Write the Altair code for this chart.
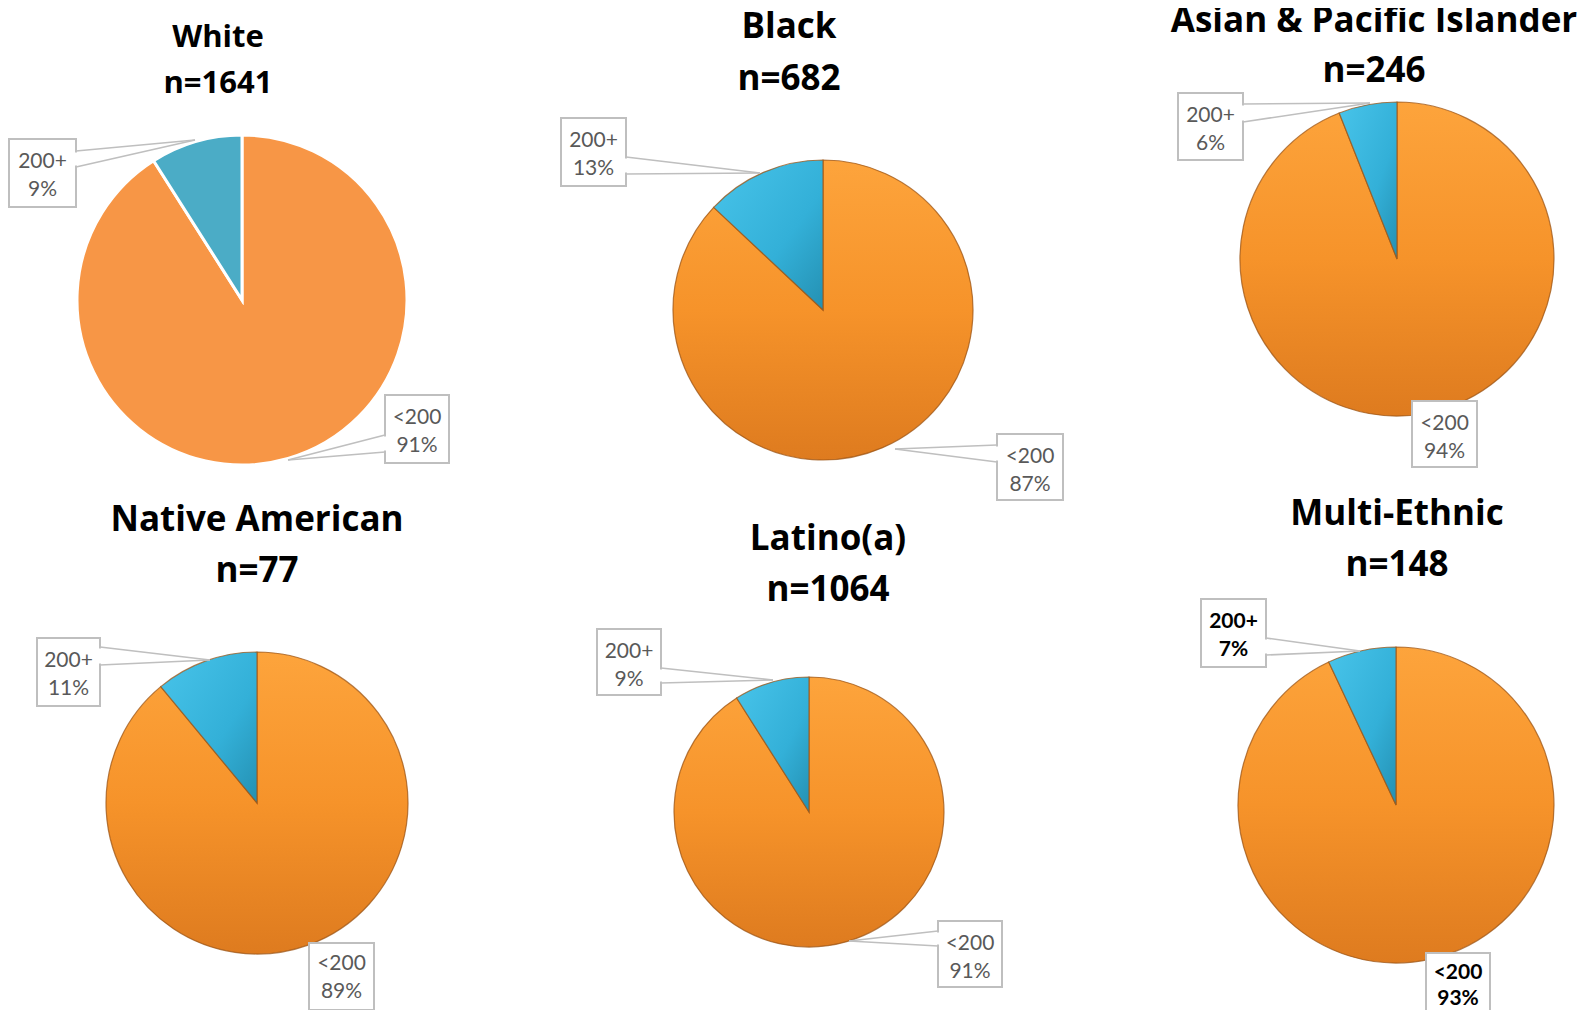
import altair as alt
import pandas as pd

# ---------------- data ----------------
groups = ["White", "Black", "Asian & Pacific Islander", "Native American", "Latino(a)", "Multi-Ethnic"]
n_values = [1641, 682, 246, 77, 1064, 148]
categories = ["<200", "200+"]
pct_under_200 = [91, 87, 94, 89, 91, 93]
pct_200_plus = [9, 13, 6, 11, 9, 7]

# ---------------- layout (page pixel coords) ----------------
OFF = 8
pie_layout = {  # cx, cy, r
    "White": (242, 300, 165),
    "Black": (823, 310, 150),
    "Asian & Pacific Islander": (1397, 259, 157),
    "Native American": (257, 803, 151),
    "Latino(a)": (809, 812, 135),
    "Multi-Ethnic": (1396, 805, 158),
}
title_layout = {  # cx, baseline1, baseline2, font size
    "White": (218, 47, 93, 31),
    "Black": (789, 38, 90, 35),
    "Asian & Pacific Islander": (1374, 32, 82, 35),
    "Native American": (257, 531, 582, 35),
    "Latino(a)": (828, 550, 601, 35),
    "Multi-Ethnic": (1397, 525, 576, 35),
}
# box (x0,y0,x1,y1), leader: (attach_x, ya, yb, tip_x, tip_y) or None, text offsets
callout_layout = {
    ("White", "200+"): ((9, 139, 76, 207), (76, 151, 167, 195, 140), (23, 51)),
    ("White", "<200"): ((385, 395, 449, 463), (385, 435, 452, 288, 460), (23, 51)),
    ("Black", "200+"): ((561, 118, 626, 186), (626, 157, 174, 760, 173), (23, 51)),
    ("Black", "<200"): ((997, 434, 1063, 500), (997, 445, 462, 895, 449), (23, 51)),
    ("Asian & Pacific Islander", "200+"): ((1178, 93, 1243, 160), (1243, 104, 122, 1370, 103), (23, 51)),
    ("Asian & Pacific Islander", "<200"): ((1412, 401, 1477, 467), None, (23, 51)),
    ("Native American", "200+"): ((37, 638, 100, 706), (100, 647, 665, 210, 660), (23, 51)),
    ("Native American", "<200"): ((309, 943, 374, 1010), None, (21, 49)),
    ("Latino(a)", "200+"): ((597, 629, 661, 695), (661, 668, 683, 773, 680), (23, 51)),
    ("Latino(a)", "<200"): ((938, 921, 1002, 987), (938, 931, 946, 849, 941), (23, 51)),
    ("Multi-Ethnic", "200+"): ((1201, 599, 1266, 667), (1266, 638, 655, 1360, 651), (23, 51)),
    ("Multi-Ethnic", "<200"): ((1426, 953, 1490, 1021), None, (20, 46)),
}
bold_labels = {"Multi-Ethnic"}

TITLE_FONT = "Open Sans"
LABEL_FONT = "Lato"
grad_orange = {
    "gradient": "linear", "x1": 0, "y1": 0, "x2": 0, "y2": 1,
    "stops": [
        {"offset": 0, "color": "#FDA43C"},
        {"offset": 0.5, "color": "#F6932A"},
        {"offset": 1, "color": "#DE7B1F"},
    ],
}
grad_blue = {
    "gradient": "linear", "x1": 0, "y1": 0, "x2": 1, "y2": 1,
    "stops": [
        {"offset": 0, "color": "#48C4EA"},
        {"offset": 0.6, "color": "#33B0D8"},
        {"offset": 1, "color": "#2490B2"},
    ],
}

layers = []

# ---------------- pies ----------------
for i, g in enumerate(groups):
    cx, cy, r = pie_layout[g]
    df = pd.DataFrame({
        "group": [g, g],
        "cat": categories,
        "pct": [pct_under_200[i], pct_200_plus[i]],
        "idx": [0, 1],
    })
    if g == "White":
        color = alt.condition(alt.datum.cat == "<200", alt.value("#F79646"), alt.value("#4BACC6"))
        mark = alt.Chart(df).mark_arc(outerRadius=r, stroke="white", strokeWidth=3)
    else:
        color = alt.condition(alt.datum.cat == "<200", alt.value(grad_orange), alt.value(grad_blue))
        mark = alt.Chart(df).mark_arc(outerRadius=r, stroke="#9C5414", strokeWidth=1.2, strokeOpacity=0.75)
    layers.append(
        mark.encode(
            theta=alt.Theta("pct:Q", stack=True),
            order=alt.Order("idx:Q"),
            color=color,
            x=alt.value(cx - OFF),
            y=alt.value(cy - OFF),
        )
    )

# ---------------- titles ----------------
trows = []
for i, g in enumerate(groups):
    cx, b1, b2, fs = title_layout[g]
    trows.append({"txt": g, "px": cx - OFF, "py": b1 - OFF, "fs": fs})
    trows.append({"txt": f"n={n_values[i]}", "px": cx - OFF, "py": b2 - OFF, "fs": fs})
tdf = pd.DataFrame(trows)
for fs in sorted(tdf["fs"].unique()):
    layers.append(
        alt.Chart(tdf[tdf["fs"] == fs]).mark_text(font=TITLE_FONT, fontWeight="bold", fontSize=int(fs),
                                                  baseline="alphabetic", align="center",
                                                  color="#000000").encode(
            x=alt.X("px:Q", scale=None, axis=None),
            y=alt.Y("py:Q", scale=None, axis=None),
            text="txt:N",
        )
    )

# ---------------- callouts ----------------
boxes, rules, erase, texts = [], [], [], []
for i, g in enumerate(groups):
    vals = {"<200": pct_under_200[i], "200+": pct_200_plus[i]}
    for c in categories:
        (x0, y0, x1, y1), lead, (o1, o2) = callout_layout[(g, c)]
        boxes.append({"x": x0 - OFF, "y": y0 - OFF, "x2": x1 - OFF, "y2": y1 - OFF})
        if lead is not None:
            ax, ya, yb, tx, ty = lead
            rules.append({"x": ax - OFF, "y": ya - OFF, "x2": tx - OFF, "y2": ty - OFF})
            rules.append({"x": ax - OFF, "y": yb - OFF, "x2": tx - OFF, "y2": ty - OFF})
            erase.append({"x": ax - OFF, "y": ya + 1.5 - OFF, "x2": ax - OFF, "y2": yb - 1.5 - OFF})
        mx = (x0 + x1) / 2 - OFF
        bold = g in bold_labels
        texts.append({"txt": c, "px": mx, "py": y0 + o1 - OFF, "bold": bold})
        texts.append({"txt": f"{vals[c]}%", "px": mx, "py": y0 + o2 - OFF, "bold": bold})

rdf = pd.DataFrame(rules)
layers.append(
    alt.Chart(rdf).mark_rule(color="#BFBFBF", strokeWidth=1.6).encode(
        x=alt.X("x:Q", scale=None, axis=None), y=alt.Y("y:Q", scale=None, axis=None),
        x2="x2:Q", y2="y2:Q",
    )
)
bdf = pd.DataFrame(boxes)
layers.append(
    alt.Chart(bdf).mark_rect(fill="white", stroke="#BFBFBF", strokeWidth=2).encode(
        x=alt.X("x:Q", scale=None, axis=None), y=alt.Y("y:Q", scale=None, axis=None),
        x2="x2:Q", y2="y2:Q",
    )
)
edf = pd.DataFrame(erase)
layers.append(
    alt.Chart(edf).mark_rule(color="white", strokeWidth=3).encode(
        x=alt.X("x:Q", scale=None, axis=None), y=alt.Y("y:Q", scale=None, axis=None),
        x2="x2:Q", y2="y2:Q",
    )
)
xdf = pd.DataFrame(texts)
layers.append(
    alt.Chart(xdf[~xdf["bold"]]).mark_text(font=LABEL_FONT, fontSize=21, baseline="middle",
                                           align="center", color="#595959").encode(
        x=alt.X("px:Q", scale=None, axis=None), y=alt.Y("py:Q", scale=None, axis=None),
        text="txt:N",
    )
)
layers.append(
    alt.Chart(xdf[xdf["bold"]]).mark_text(font=LABEL_FONT, fontSize=21, fontWeight="bold", baseline="middle",
                                          align="center", color="#000000").encode(
        x=alt.X("px:Q", scale=None, axis=None), y=alt.Y("py:Q", scale=None, axis=None),
        text="txt:N",
    )
)

chart = alt.layer(*layers).properties(
    width=1579, height=1002,
    autosize=alt.AutoSizeParams(type="none"),
    padding=0,
).configure_view(stroke=None)

chart.save("out.html", embed_options={"renderer": "svg", "actions": False})
